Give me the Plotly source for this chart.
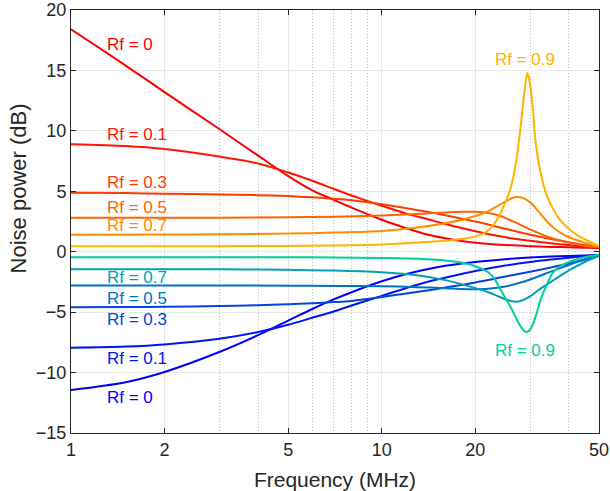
import numpy as np
import plotly.graph_objects as go

# ---------------- data ----------------
f_main = [1, 1.5, 2, 3, 4, 5, 6, 7, 8, 10, 12, 14, 16, 20, 25, 30, 35, 40, 45, 50]

# upper (warm) family
up_rf0 = [18.4, 15.4, 13.2, 10.15, 7.95, 6.25, 5.05, 4.3, 3.65, 2.65, 1.95, 1.42, 1.12, 0.75, 0.56, 0.46, 0.4, 0.36, 0.33, 0.3]
up_rf01 = [8.9, 8.75, 8.5, 7.87, 7.3, 6.55, 5.85, 5.2, 4.65, 3.8, 3.15, 2.7, 2.3, 1.7, 1.2, 0.9, 0.7, 0.55, 0.42, 0.35]
up_rf03 = [4.88, 4.85, 4.8, 4.74, 4.68, 4.6, 4.5, 4.38, 4.25, 3.92, 3.6, 3.3, 3.02, 2.5, 1.9, 1.4, 1.05, 0.78, 0.55, 0.38]

f_up05 = [1, 2, 3, 5, 7, 10, 13, 16, 18, 20, 22, 24, 27, 30, 35, 40, 45, 50]
up_rf05 = [2.8, 2.8, 2.82, 2.85, 2.9, 3.0, 3.12, 3.24, 3.3, 3.3, 3.2, 2.97, 2.4, 1.85, 1.15, 0.75, 0.5, 0.38]

f_up07 = [1, 2, 3, 5, 7, 10, 13, 16, 18, 20, 22, 24, 26, 27, 28, 30, 32, 34, 36, 38, 40, 45, 50]
up_rf07 = [1.4, 1.42, 1.45, 1.5, 1.58, 1.72, 2.0, 2.35, 2.62, 2.95, 3.35, 3.9, 4.38, 4.52, 4.5, 4.1, 3.3, 2.5, 1.9, 1.5, 1.2, 0.75, 0.42]

f_up09 = [1, 3, 5, 7, 10, 14, 18, 20, 22, 23, 24, 25, 26, 27, 27.5, 28, 28.8, 29.4, 30, 30.6, 31.2, 32, 33, 34, 35.5, 37, 39.3, 42, 45.5, 50]
up_rf09 = [0.45, 0.46, 0.48, 0.52, 0.6, 0.8, 1.05, 1.25, 1.75, 2.3, 3.1, 4.1, 5.3, 7.3, 8.8, 10.4, 13.3, 14.8, 13.9, 11.9, 9.3, 7.3, 5.7, 4.6, 3.6, 2.8, 2.07, 1.45, 0.97, 0.45]

# lower (cool) family
lo_rf0 = [-11.45, -10.8, -9.95, -8.3, -6.9, -5.7, -4.72, -3.95, -3.35, -2.45, -1.85, -1.45, -1.17, -0.85, -0.62, -0.48, -0.4, -0.35, -0.31, -0.28]
lo_rf01 = [-7.95, -7.85, -7.67, -7.2, -6.65, -6.05, -5.45, -4.95, -4.45, -3.65, -3.0, -2.5, -2.15, -1.6, -1.15, -0.85, -0.65, -0.5, -0.38, -0.3]
lo_rf03 = [-4.6, -4.58, -4.55, -4.5, -4.43, -4.35, -4.26, -4.17, -4.07, -3.75, -3.45, -3.2, -2.97, -2.55, -2.05, -1.65, -1.3, -0.98, -0.65, -0.32]

f_lo05 = [1, 2, 3, 5, 7, 10, 13, 16, 18, 20, 22, 25, 28, 30, 35, 40, 45, 50]
lo_rf05 = [-2.8, -2.8, -2.8, -2.81, -2.83, -2.86, -2.93, -3.02, -3.08, -3.1, -3.07, -2.88, -2.55, -2.3, -1.65, -1.1, -0.65, -0.32]

f_lo07 = [1, 3, 5, 7, 10, 13, 16, 19, 22, 24, 26, 27, 28, 30, 32, 34, 36, 40, 45, 50]
lo_rf07 = [-1.45, -1.46, -1.5, -1.55, -1.7, -1.95, -2.35, -2.85, -3.35, -3.75, -4.08, -4.14, -4.08, -3.7, -3.15, -2.7, -2.3, -1.55, -0.85, -0.35]

f_lo09 = [1, 3, 5, 7, 10, 13, 16, 18, 20, 22, 23, 24, 25, 26, 27, 28, 28.7, 29.3, 30, 30.8, 31.6, 32.5, 33.9, 35.5, 37, 40, 45, 50]
lo_rf09 = [-0.45, -0.45, -0.46, -0.48, -0.52, -0.58, -0.72, -0.9, -1.2, -1.7, -2.2, -3.05, -3.85, -4.6, -5.45, -6.2, -6.55, -6.65, -6.45, -5.85, -4.97, -3.9, -2.76, -1.75, -1.3, -0.85, -0.45, -0.25]

x_ticks = [1, 2, 5, 10, 20, 50]
x_minor = [3, 4, 6, 7, 8, 9, 30, 40]
y_ticks = [-15, -10, -5, 0, 5, 10, 15, 20]

warm = ["#ff0000", "#ff1400", "#ff3c00", "#ff6400", "#ff8c00", "#ffb400"]
cool = ["#0000ff", "#0017f4", "#0045de", "#0073c8", "#00a1b2", "#00cf9c"]

upper = [(f_main, up_rf0), (f_main, up_rf01), (f_main, up_rf03),
         (f_up05, up_rf05), (f_up07, up_rf07), (f_up09, up_rf09)]
lower = [(f_main, lo_rf0), (f_main, lo_rf01), (f_main, lo_rf03),
         (f_lo05, lo_rf05), (f_lo07, lo_rf07), (f_lo09, lo_rf09)]

fig = go.Figure()
for (fx, vy), c in zip(lower, cool):
    fig.add_trace(go.Scatter(x=fx, y=vy, mode="lines",
                             line=dict(color=c, width=2, shape="spline", smoothing=0.8)))
for (fx, vy), c in zip(upper, warm):
    fig.add_trace(go.Scatter(x=fx, y=vy, mode="lines",
                             line=dict(color=c, width=2, shape="spline", smoothing=0.8)))

# labels
lab_font = 17
left_labels = [
    ("Rf = 0", 17.12, warm[0]), ("Rf = 0.1", 9.67, warm[1]), ("Rf = 0.3", 5.72, warm[2]),
    ("Rf = 0.5", 3.7, warm[3]), ("Rf = 0.7", 2.17, warm[4]),
    ("Rf = 0.7", -2.1, cool[4]), ("Rf = 0.5", -3.83, cool[3]), ("Rf = 0.3", -5.57, cool[2]),
    ("Rf = 0.1", -8.85, cool[1]), ("Rf = 0", -12.1, cool[0]),
]
for txt, yv, c in left_labels:
    fig.add_annotation(x=np.log10(1.293), y=yv, text=txt, showarrow=False,
                       xanchor="left", yanchor="middle", borderpad=0,
                       font=dict(size=lab_font, color=c))
for txt, yv, c in [("Rf = 0.9", 15.9, warm[5]), ("Rf = 0.9", -8.14, cool[5])]:
    fig.add_annotation(x=np.log10(28.9), y=yv, text=txt, showarrow=False,
                       xanchor="center", yanchor="middle", borderpad=0,
                       font=dict(size=lab_font, color=c))

axcol = "#262626"

# y-axis title as a rotated text
fig.add_annotation(xref="paper", yref="paper", x=(18 - 71) / 528, y=(432 - 188) / 422,
                   text="Noise power (dB)", textangle=-90, showarrow=False,
                   xanchor="center", yanchor="middle",
                   font=dict(size=22, color=axcol))

fig.update_layout(
    width=610, height=491,
    margin=dict(l=71, r=11, t=10, b=58),
    paper_bgcolor="white", plot_bgcolor="white",
    showlegend=False,
    font=dict(family="Liberation Sans, Arial, sans-serif", color=axcol),
)
fig.update_xaxes(
    type="log", range=[0, np.log10(50)],
    tickvals=x_ticks, ticktext=[str(v) for v in x_ticks],
    ticks="inside", ticklen=5, tickcolor=axcol, tickwidth=1,
    showline=True, linecolor=axcol, linewidth=1, mirror="ticks",
    showgrid=True, gridcolor="#e6e6e6", gridwidth=1, zeroline=False,
    minor=dict(tickvals=x_minor, showgrid=True, griddash="1px,2px",
               gridcolor="#bcbcbc", gridwidth=1, ticks=""),
    tickfont=dict(size=18, color=axcol),
    title=dict(text="Frequency (MHz)", font=dict(size=21, color=axcol), standoff=14),
    automargin=False,
)
fig.update_yaxes(
    range=[-15, 20], tickvals=y_ticks,
    ticks="inside", ticklen=5, tickcolor=axcol, tickwidth=1,
    showline=True, linecolor=axcol, linewidth=1, mirror="ticks",
    showgrid=True, gridcolor="#e6e6e6", gridwidth=1, zeroline=False,
    tickfont=dict(size=18, color=axcol),
    automargin=False,
)

fig.write_html("out.html", config={"displayModeBar": False},
               post_script="document.body.style.margin='0px';document.body.style.padding='0px';")
